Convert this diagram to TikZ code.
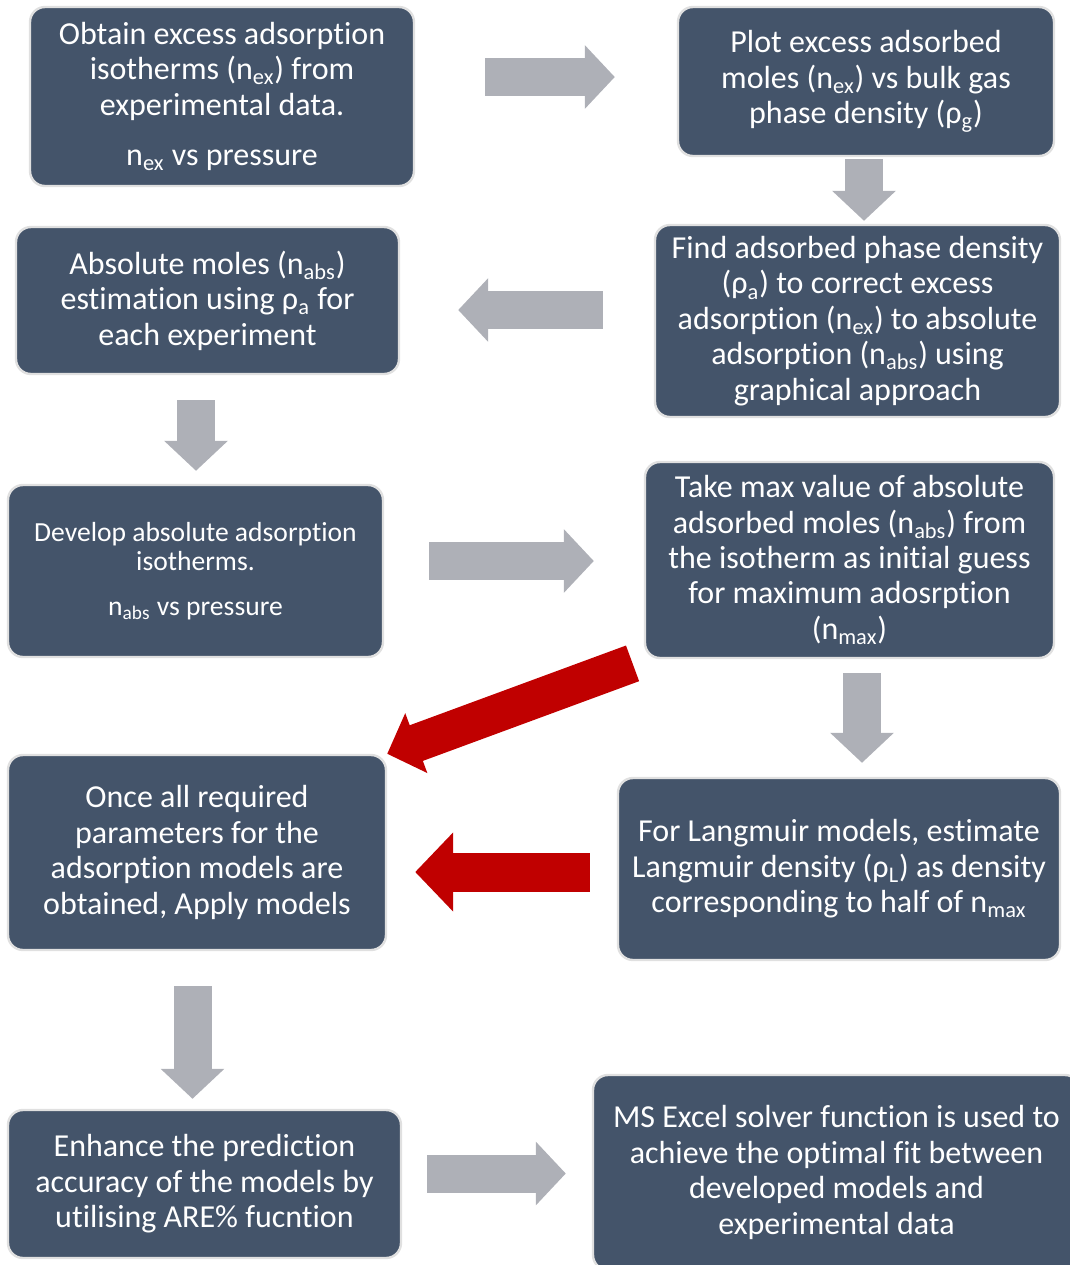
\documentclass[tikz,border=0pt]{standalone}
\usepackage{fontspec}
\setmainfont{Carlito}[Ligatures=NoCommon]
\usepackage{xcolor}
\usetikzlibrary{arrows.meta, positioning}

\definecolor{slate}{HTML}{44546A}
\definecolor{arrowgray}{HTML}{AEB0B7}
\definecolor{darkred}{HTML}{C00000}
\newcommand{\sub}[1]{\textsubscript{#1}}

\begin{document}
\begin{tikzpicture}[
  x=0.5pt, y=-0.5pt,
  box/.style={rectangle, rounded corners=7.5pt, fill=slate, draw=black!12, line width=1.2pt,
    text=white, align=center, inner sep=0pt, font=\fontsize{16pt}{17.7pt}\selectfont},
  smalltext/.style={font=\fontsize{13.8pt}{14.6pt}\selectfont},
  grayarrow/.style={draw=arrowgray, line width=19pt, -{Triangle[width=31pt, length=15pt]}},
  redarrow/.style={draw=darkred, line width=19pt, -{Triangle[width=31pt, length=15.5pt]}},
  bigredarrow/.style={draw=darkred, line width=19.5pt, -{Triangle[width=38.5pt, length=19pt]}}
]
\useasboundingbox (0,0) rectangle (1070,1265);

\node[box, minimum width=192pt, minimum height=89.5pt] (excess) at (222, 96.5)
  {Obtain excess adsorption\\ isotherms (n\sub{ex}) from\\ experimental data.\\[7.5pt] n\sub{ex} vs pressure};
\node[box, minimum width=188pt, minimum height=74.5pt] (plot) at (866, 81.5)
  {Plot excess adsorbed\\ moles (n\sub{ex}) vs bulk gas\\ phase density (ρ\sub{g})};
\node[box, minimum width=202.5pt, minimum height=96pt] (density) at (857.5, 321)
  {Find adsorbed phase density\\ (ρ\sub{a}) to correct excess\\ adsorption (n\sub{ex}) to absolute\\ adsorption (n\sub{abs}) using\\ graphical approach};
\node[box, minimum width=191.5pt, minimum height=73.5pt] (absolute) at (207.5, 300.5)
  {Absolute moles (n\sub{abs})\\ estimation using ρ\sub{a} for\\ each experiment};
\node[box, smalltext, minimum width=187.5pt, minimum height=86pt] (develop) at (195.5, 571)
  {Develop absolute adsorption\\ isotherms.\\[7.5pt] n\sub{abs} vs pressure};
\node[box, minimum width=204.5pt, minimum height=98pt] (maxval) at (849.5, 560)
  {Take max value of absolute\\ adsorbed moles (n\sub{abs}) from\\ the isotherm as initial guess\\ for maximum adosrption\\ (n\sub{max})};
\node[box, minimum width=189pt, minimum height=97.5pt] (models) at (197, 852.5)
  {Once all required\\ parameters for the\\ adsorption models are\\ obtained, Apply models};
\node[box, minimum width=221pt, minimum height=91pt] (langmuir) at (839, 869)
  {For Langmuir models, estimate\\ Langmuir density (ρ\sub{L}) as density\\ corresponding to half of n\sub{max}};
\node[box, minimum width=196.5pt, minimum height=74pt] (enhance) at (204.5, 1184)
  {Enhance the prediction\\ accuracy of the models by\\ utilising ARE\% fucntion};
\node[box, minimum width=243.5pt, minimum height=97.5pt] (solver) at (836.5, 1172.5)
  {MS Excel solver function is used to\\ achieve the optimal fit between\\ developed models and\\ experimental data};

% gray block arrows
\draw[grayarrow, shorten <=35pt, shorten >=31pt] ([yshift=9.75pt]excess.east) -- ([yshift=2.25pt]plot.west);
\draw[grayarrow, shorten <=1pt, shorten >=1.5pt] ([xshift=-1pt]plot.south) -- ([xshift=-1pt]plot.south |- density.north);
\draw[grayarrow, shorten <=25.5pt, shorten >=29pt] ([yshift=5.5pt]density.west) -- ([yshift=-4.75pt]absolute.east);
\draw[grayarrow, shorten <=12.5pt, shorten >=6.5pt] ([xshift=-5.75pt]absolute.south) -- ([xshift=-5.75pt]absolute.south |- develop.north);
\draw[grayarrow, shorten <=22.5pt, shorten >=25pt] ([yshift=5pt]develop.east) -- ([yshift=5pt]develop.east -| maxval.west);
\draw[grayarrow, shorten <=7pt, shorten >=7pt] ([xshift=6.25pt]maxval.south) -- ([xshift=6.25pt]maxval.south |- langmuir.north);
\draw[grayarrow, shorten <=17.5pt, shorten >=5pt] ([xshift=-2.25pt]models.south) -- ([xshift=-2.25pt]models.south |- enhance.north);
\draw[grayarrow, shorten <=12.5pt, shorten >=13pt] ([yshift=5.25pt]enhance.east) -- ([yshift=5.25pt]enhance.east -| solver.west);

% red block arrows
\draw[redarrow, shorten <=6pt] (maxval.south west) -- (models.north east);
\draw[bigredarrow, shorten <=13.5pt, shorten >=14pt] ([yshift=-1.5pt]langmuir.west) -- ([yshift=-1.5pt]langmuir.west -| models.east);

\end{tikzpicture}
\end{document}
